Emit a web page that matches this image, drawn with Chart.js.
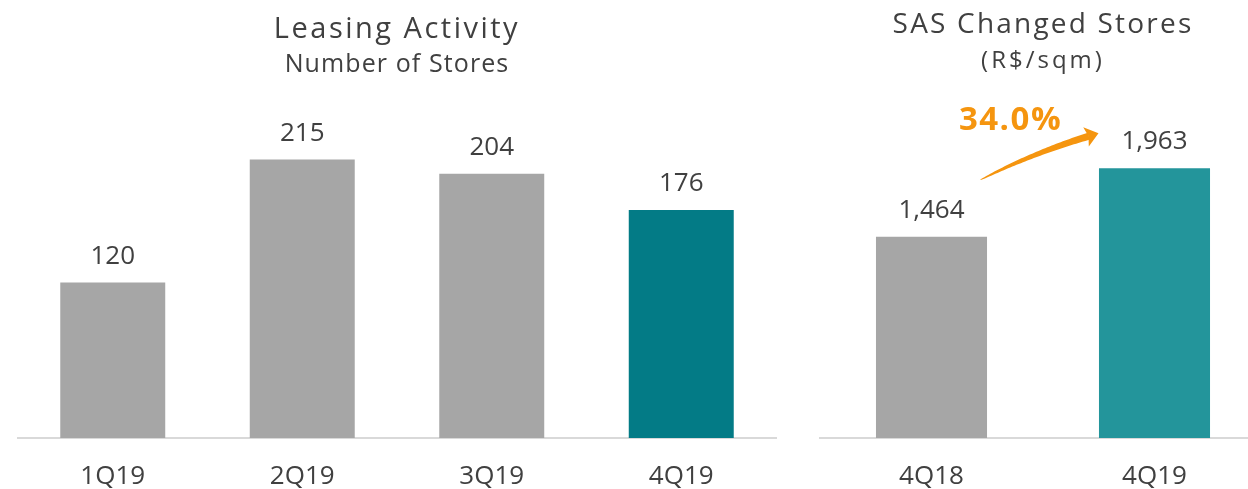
<!DOCTYPE html>
<html>
<head>
<meta charset="utf-8">
<script src="https://cdn.jsdelivr.net/npm/chart.js@4.4.1/dist/chart.umd.min.js"></script>
<style>
  html, body { margin: 0; padding: 0; background: #ffffff; width: 1248px; height: 489px; overflow: hidden; }
  #left { position: absolute; left: 0; top: 0; width: 800px; height: 489px; }
  #right { position: absolute; left: 800px; top: 0; width: 466px; height: 489px; }
</style>
</head>
<body>
<div id="left"><canvas id="c1" width="800" height="489"></canvas></div>
<div id="right"><canvas id="c2" width="466" height="489"></canvas></div>
<script>
// ---- data ----
const leasingCategories = ['1Q19', '2Q19', '3Q19', '4Q19'];
const leasingValues = [120, 215, 204, 176];
const leasingTitle = 'Leasing Activity';
const leasingSubtitle = 'Number of Stores';

const sasCategories = ['4Q18', '4Q19'];
const sasValues = [1464, 1963];
const sasTitle = 'SAS Changed Stores';
const sasSubtitle = '(R$/sqm)';
const sasGrowthLabel = '34.0%';

// ---- styles ----
const FONT = '"Open Sans", Lato, sans-serif';
const TEXT = '#404040';
const GRAY = '#A6A6A6';
const TEAL_DARK = '#037B86';
const TEAL = '#23959B';
const ORANGE = '#F5950F';
const AXIS = '#D9D9D9';

// letter spacing (px) applied to the title / subtitle boxes
const titleSpacing = new Map([
  [leasingTitle, 2.5], [leasingSubtitle, 1.1],
  [sasTitle, 2.2], [sasSubtitle, 3.0]
]);

const spacing = {
  id: 'spacing',
  beforeDraw(chart) {
    chart.boxes.forEach(box => {
      const txt = box && box.options && box.options.text;
      if (typeof txt === 'string' && titleSpacing.has(txt) && !box.__spaced) {
        const orig = box.draw;
        box.draw = function (...args) {
          const ctx = this.ctx || chart.ctx;
          const prev = ctx.letterSpacing;
          ctx.letterSpacing = titleSpacing.get(txt) + 'px';
          orig.apply(this, args);
          ctx.letterSpacing = prev || '0px';
        };
        box.__spaced = true;
      }
    });
  }
};

const valueLabels = {
  id: 'valueLabels',
  afterDatasetsDraw(chart) {
    const ctx = chart.ctx;
    ctx.save();
    ctx.letterSpacing = '0px';
    ctx.font = '26px ' + FONT;
    ctx.fillStyle = TEXT;
    ctx.textAlign = 'center';
    ctx.textBaseline = 'alphabetic';
    const meta = chart.getDatasetMeta(0);
    const data = chart.data.datasets[0].data;
    meta.data.forEach((bar, i) => {
      ctx.fillText(Number(data[i]).toLocaleString('en-US'), bar.x, bar.y - 19);
    });
    ctx.restore();
  }
};

const growthArrow = {
  id: 'growthArrow',
  afterDatasetsDraw(chart) {
    const meta = chart.getDatasetMeta(0);
    if (meta.data.length < 2) return;
    const b0 = meta.data[0], b1 = meta.data[1];
    const ctx = chart.ctx;
    // arrow anchored to the bars
    const sx = b0.x + 49, sy = b0.y - 57;
    const tx = b1.x - 56, ty = b1.y - 35;
    const cx = (sx + tx) / 2 - 4, cy = (sy + ty) / 2 - 5;
    const q = (t) => ({
      x: (1 - t) * (1 - t) * sx + 2 * (1 - t) * t * cx + t * t * tx,
      y: (1 - t) * (1 - t) * sy + 2 * (1 - t) * t * cy + t * t * ty
    });
    const dq = (t) => ({
      x: 2 * (1 - t) * (cx - sx) + 2 * t * (tx - cx),
      y: 2 * (1 - t) * (cy - sy) + 2 * t * (ty - cy)
    });
    const headLen = 13, headHalf = 10;
    const chord = Math.hypot(tx - sx, ty - sy);
    const endT = 1 - (headLen * 0.75) / chord;
    const N = 50;
    const top = [], bot = [];
    for (let i = 0; i <= N; i++) {
      const t = endT * i / N;
      const p = q(t), d = dq(t);
      const l = Math.hypot(d.x, d.y);
      const nx = -d.y / l, ny = d.x / l;
      const w = 0.3 + 3.3 * Math.pow(i / N, 0.65);
      top.push({ x: p.x + nx * w, y: p.y + ny * w });
      bot.push({ x: p.x - nx * w, y: p.y - ny * w });
    }
    ctx.save();
    ctx.letterSpacing = '0px';
    ctx.fillStyle = ORANGE;
    ctx.beginPath();
    ctx.moveTo(top[0].x, top[0].y);
    top.forEach(p => ctx.lineTo(p.x, p.y));
    for (let i = bot.length - 1; i >= 0; i--) ctx.lineTo(bot[i].x, bot[i].y);
    ctx.closePath();
    ctx.fill();
    // head
    const d = dq(1);
    const l = Math.hypot(d.x, d.y);
    const ux = d.x / l, uy = d.y / l;
    const nx = -uy, ny = ux;
    const bx = tx - ux * headLen, by = ty - uy * headLen;
    ctx.beginPath();
    ctx.moveTo(tx, ty);
    ctx.lineTo(bx + nx * headHalf, by + ny * headHalf);
    ctx.lineTo(tx - ux * headLen * 0.8, ty - uy * headLen * 0.8);
    ctx.lineTo(bx - nx * headHalf, by - ny * headHalf);
    ctx.closePath();
    ctx.fill();
    // label
    ctx.letterSpacing = '1.5px';
    ctx.font = 'bold 33px ' + FONT;
    ctx.textAlign = 'center';
    ctx.textBaseline = 'alphabetic';
    ctx.fillText(sasGrowthLabel, sx + 30, ty - 3);
    ctx.restore();
  }
};

function makeOptions(cfg) {
  return {
    responsive: false,
    animation: false,
    maintainAspectRatio: false,
    layout: { padding: cfg.padding },
    plugins: {
      legend: { display: false },
      tooltip: { enabled: false },
      title: {
        display: true, text: cfg.title, color: TEXT,
        font: { family: FONT, size: cfg.titleSize, weight: 'normal', lineHeight: 1.2 },
        padding: cfg.titlePad
      },
      subtitle: {
        display: true, text: cfg.subtitle, color: TEXT,
        font: { family: FONT, size: cfg.subSize, weight: 'normal', lineHeight: 1.2 },
        padding: cfg.subPad
      }
    },
    scales: {
      x: {
        grid: { display: false, drawTicks: false },
        border: { display: true, color: AXIS, width: 2 },
        ticks: { color: TEXT, font: { family: FONT, size: 26 }, padding: 23 },
        afterFit(scale) { scale.height = 51; }
      },
      y: { display: false, min: 0, max: cfg.max }
    }
  };
}

new Chart(document.getElementById('c1'), {
  type: 'bar',
  data: {
    labels: leasingCategories,
    datasets: [{
      data: leasingValues,
      backgroundColor: [GRAY, GRAY, GRAY, TEAL_DARK],
      borderWidth: 0,
      barPercentage: 0.554,
      categoryPercentage: 1.0
    }]
  },
  options: makeOptions({
    padding: { left: 18, right: 24, top: 0, bottom: 0 },
    title: leasingTitle, subtitle: leasingSubtitle,
    titleSize: 29, subSize: 25,
    titlePad: { top: 12.6, bottom: 0 }, subPad: { top: 2.2, bottom: 8 },
    max: 270.6
  }),
  plugins: [spacing, valueLabels]
});

new Chart(document.getElementById('c2'), {
  type: 'bar',
  data: {
    labels: sasCategories,
    datasets: [{
      data: sasValues,
      backgroundColor: [GRAY, TEAL],
      borderWidth: 0,
      barPercentage: 0.498,
      categoryPercentage: 1.0
    }]
  },
  options: makeOptions({
    padding: { left: 20, right: 0, top: 0, bottom: 0 },
    title: sasTitle, subtitle: sasSubtitle,
    titleSize: 28, subSize: 24,
    titlePad: { top: 8.2, bottom: 0 }, subPad: { top: 5.3, bottom: 12 },
    max: 2548
  }),
  plugins: [spacing, valueLabels, growthArrow]
});
</script>
</body>
</html>
